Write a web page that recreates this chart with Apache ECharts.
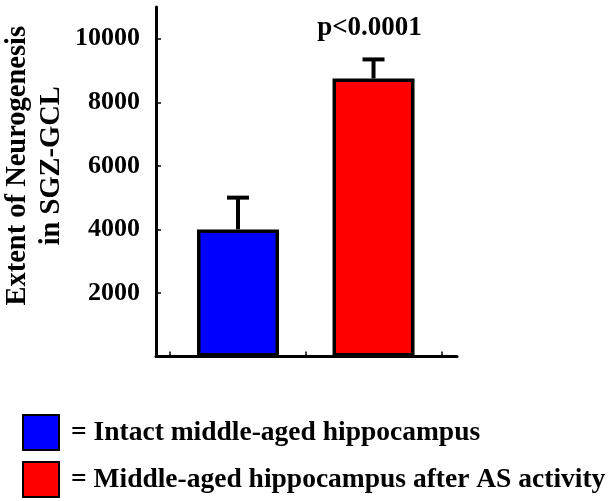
<!DOCTYPE html>
<html><head><meta charset="utf-8">
<script src="https://cdn.jsdelivr.net/npm/echarts@6/dist/echarts.min.js"></script>
<style>html,body{margin:0;padding:0;background:#fff}#c{width:614px;height:501px}</style>
</head><body><div id="c"></div>
<script>
const groups = ['Intact middle-aged hippocampus', 'Middle-aged hippocampus after AS activity'];
const positions = [1, 2];
const means = [4000, 8750];
const errorTops = [5000, 9350];
const colors = ['#0000ff', '#ff0000'];
const yTicks = [2000, 4000, 6000, 8000, 10000];
const xTicks = [0.5, 1.5, 2.5];
const annotations = ['', 'p<0.0001'];
const yTitle = 'Extent of Neurogenesis\nin SGZ-GCL';

const FONT = '"Liberation Serif", "Times New Roman", serif';
const chart = echarts.init(document.getElementById('c'), null, {renderer: 'canvas'});

const barSeries = groups.map((g, i) => ({
  name: g,
  type: 'bar',
  barWidth: 82,
  barGap: '-100%',
  itemStyle: {color: colors[i], borderColor: '#000', borderWidth: 3.5},
  data: [[positions[i], means[i]]],
  z: 2
}));

const errSeries = {
  type: 'custom',
  z: 3,
  data: positions.map((p, i) => [p, means[i], errorTops[i]]),
  renderItem: (params, api) => {
    const x = api.value(0), lo = api.value(1), hi = api.value(2);
    const p0 = api.coord([x, lo]);
    const p1 = api.coord([x, hi]);
    const cap = 11;
    const children = [
      {type: 'line', shape: {x1: p0[0], y1: p0[1], x2: p1[0], y2: p1[1]}, style: {stroke: '#000', lineWidth: 4}},
      {type: 'line', shape: {x1: p1[0] - cap, y1: p1[1], x2: p1[0] + cap, y2: p1[1]}, style: {stroke: '#000', lineWidth: 4}}
    ];
    const note = annotations[params.dataIndex];
    if (note) {
      children.push({type: 'text', x: p1[0] - 4, y: p1[1] - 31,
        style: {text: note, fill: '#000', align: 'center', verticalAlign: 'middle',
          font: 'bold 27px ' + FONT}});
    }
    return {type: 'group', children};
  }
};

const legendBase = {
  orient: 'vertical', left: 22, padding: 0,
  itemWidth: 36, itemHeight: 35,
  icon: 'rect',
  formatter: '= {name}',
  textStyle: {fontFamily: FONT, fontWeight: 'bold', fontSize: 27.5, color: '#000', padding: [0, 0, 0, 7]}
};

chart.setOption({
  animation: false,
  backgroundColor: '#fff',
  grid: {left: 156, right: 157, top: 7, bottom: 144.5, containLabel: false},
  xAxis: {
    type: 'value', min: 0.395, max: 2.616,
    axisLine: {show: true, lineStyle: {color: '#000', width: 3}},
    axisTick: {show: true, inside: true, length: 5, customValues: xTicks, lineStyle: {color: '#000', width: 1.5}},
    axisLabel: {show: false},
    splitLine: {show: false}
  },
  yAxis: {
    type: 'value', min: 0, max: 11000,
    name: yTitle, nameLocation: 'middle', nameGap: 87, nameRotate: 90,
    nameTextStyle: {fontFamily: FONT, fontWeight: 'bold', fontSize: 28.5, color: '#000', lineHeight: 34, padding: [0, 0, 0, 32]},
    axisLine: {show: true, lineStyle: {color: '#000', width: 3}},
    axisTick: {show: true, inside: true, length: 5, customValues: yTicks, lineStyle: {color: '#000', width: 1.5}},
    axisLabel: {customValues: yTicks, margin: 16, fontFamily: FONT, fontWeight: 'bold', fontSize: 26, color: '#000',
      formatter: v => String(v)},
    splitLine: {show: false}
  },
  legend: [
    Object.assign({}, legendBase, {top: 414, data: [groups[0]]}),
    Object.assign({}, legendBase, {top: 461, data: [groups[1]]})
  ],
  series: [...barSeries, errSeries]
});
</script></body></html>
